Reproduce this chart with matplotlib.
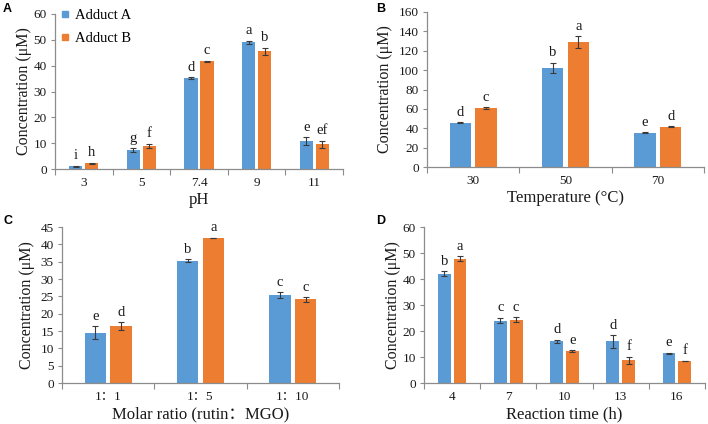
import matplotlib
matplotlib.use("Agg")
import matplotlib.pyplot as plt
from matplotlib.lines import Line2D
import numpy as np

plt.rcParams['font.family'] = ['Liberation Serif', 'Noto Sans CJK SC', 'DejaVu Sans']
plt.rcParams['mathtext.fontset'] = 'stix'

BLUE = '#5B9BD5'
ORANGE = '#ED7D31'
SPINE = '#8c8c8c'
TXT = '#1a1a1a'

# ---- data ----
ph_cats = ['3', '5', '7.4', '9', '11']
ph_a = [1.0, 7.3, 35.2, 49.0, 10.7]
ph_a_err = [0.3, 0.7, 0.4, 0.7, 1.6]
ph_b = [2.3, 9.0, 41.8, 45.6, 9.6]
ph_b_err = [0.2, 0.7, 0.2, 1.3, 1.3]
ph_a_let = ['i', 'g', 'd', 'a', 'e']
ph_b_let = ['h', 'f', 'c', 'b', 'ef']

t_cats = ['30', '50', '70']
t_a = [45.5, 102.5, 35.2]
t_a_err = [0.5, 5.0, 0.5]
t_b = [61.0, 129.0, 41.8]
t_b_err = [0.7, 6.0, 0.5]
t_a_let = ['d', 'b', 'e']
t_b_let = ['c', 'a', 'd']

r_cats = ['1：1', '1：5', '1：10']
r_a = [14.5, 35.3, 25.4]
r_a_err = [1.8, 0.4, 0.8]
r_b = [16.5, 41.8, 24.1]
r_b_err = [1.1, 0.1, 0.6]
r_a_let = ['e', 'b', 'c']
r_b_let = ['d', 'a', 'c']

h_cats = ['4', '7', '10', '13', '16']
h_a = [42.0, 24.0, 16.0, 16.0, 11.4]
h_a_err = [0.9, 1.1, 0.7, 2.4, 0.2]
h_b = [47.8, 24.3, 12.3, 8.8, 8.4]
h_b_err = [0.9, 0.9, 0.3, 1.3, 0.1]
h_a_let = ['b', 'c', 'd', 'd', 'e']
h_b_let = ['a', 'c', 'e', 'f', 'f']

W, H = 708, 424
fig = plt.figure(figsize=(W / 100, H / 100), dpi=100)


def px_axes(l, t, r, b):
    return fig.add_axes([l / W, 1 - b / H, (r - l) / W, (b - t) / H])


def panel(ax, cats, a, ae, b, be, la, lb, ymax, ystep, xlabel, ylabel, ylpad=4):
    n = len(cats)
    x = np.arange(n) + 0.5
    w, off = 0.23, 0.14
    ax.bar(x - off, a, w, color=BLUE, zorder=2)
    ax.bar(x + off, b, w, color=ORANGE, zorder=2)
    ekw = dict(fmt='none', ecolor='#3a3a3a', elinewidth=0.8, capsize=2.2, capthick=0.8, zorder=3)
    ax.errorbar(x - off, a, yerr=ae, **ekw)
    ax.errorbar(x + off, b, yerr=be, **ekw)
    for xi, v, e, t in zip(x - off, a, ae, la):
        ax.annotate(t, (xi, v + e), xytext=(0, 2.5), textcoords='offset points',
                    ha='center', va='bottom', fontsize=10.5, color=TXT)
    for xi, v, e, t in zip(x + off, b, be, lb):
        ax.annotate(t, (xi, v + e), xytext=(0, 2.5), textcoords='offset points',
                    ha='center', va='bottom', fontsize=10.5, color=TXT)
    ax.set_xlim(0, n)
    ax.set_ylim(0, ymax)
    ax.set_yticks(np.arange(0, ymax + 0.01, ystep))
    ax.set_xticks(x)
    ax.set_xticklabels(cats)
    ax.set_xticks(np.arange(0, n + 1), minor=True)
    ax.tick_params(axis='x', which='major', length=0, pad=6, labelsize=9.5, colors=TXT)
    ax.tick_params(axis='x', which='minor', length=4, width=0.8, direction='out', color=SPINE)
    ax.tick_params(axis='y', length=3, width=0.8, direction='out', color=SPINE, labelsize=9.5, labelcolor=TXT, pad=3)
    for s in ['top', 'right']:
        ax.spines[s].set_visible(False)
    for s in ['left', 'bottom']:
        ax.spines[s].set_color(SPINE)
        ax.spines[s].set_linewidth(0.9)
    ax.set_xlabel(xlabel, fontsize=12, color=TXT, labelpad=2)
    ax.set_ylabel(ylabel, fontsize=11.5, color=TXT, labelpad=ylpad)


axA = px_axes(55, 14, 343, 169)
panel(axA, ph_cats, ph_a, ph_a_err, ph_b, ph_b_err, ph_a_let, ph_b_let, 60, 10,
      'pH', 'Concentration (μM)', ylpad=1)
handles = [Line2D([], [], marker='s', linestyle='none', color=BLUE, markersize=5),
           Line2D([], [], marker='s', linestyle='none', color=ORANGE, markersize=5)]
axA.legend(handles, ['Adduct A', 'Adduct B'], loc='upper left', bbox_to_anchor=(-0.005, 1.07),
           frameon=False, fontsize=10.5, handlelength=0.8, handletextpad=0.25,
           labelspacing=0.65, borderaxespad=0)

axB = px_axes(427, 12, 704, 167)
panel(axB, t_cats, t_a, t_a_err, t_b, t_b_err, t_a_let, t_b_let, 160, 20,
      'Temperature (°C)', 'Concentration (μM)')

axC = px_axes(62, 227, 339, 383)
panel(axC, r_cats, r_a, r_a_err, r_b, r_b_err, r_a_let, r_b_let, 45, 5,
      'Molar ratio (rutin：MGO)', 'Concentration (μM)')

axD = px_axes(424, 227, 705, 383)
panel(axD, h_cats, h_a, h_a_err, h_b, h_b_err, h_a_let, h_b_let, 60, 10,
      'Reaction time (h)', 'Concentration (μM)', ylpad=1)

for lab, xp, yp in [('A', 3, 3), ('B', 376, 3), ('C', 3, 215), ('D', 376, 215)]:
    fig.text(xp / W, 1 - yp / H, lab, fontsize=9, fontweight='bold',
             family=['Liberation Sans', 'DejaVu Sans'], va='top', ha='left', color='black')

fig.savefig('out.png', dpi=100)
